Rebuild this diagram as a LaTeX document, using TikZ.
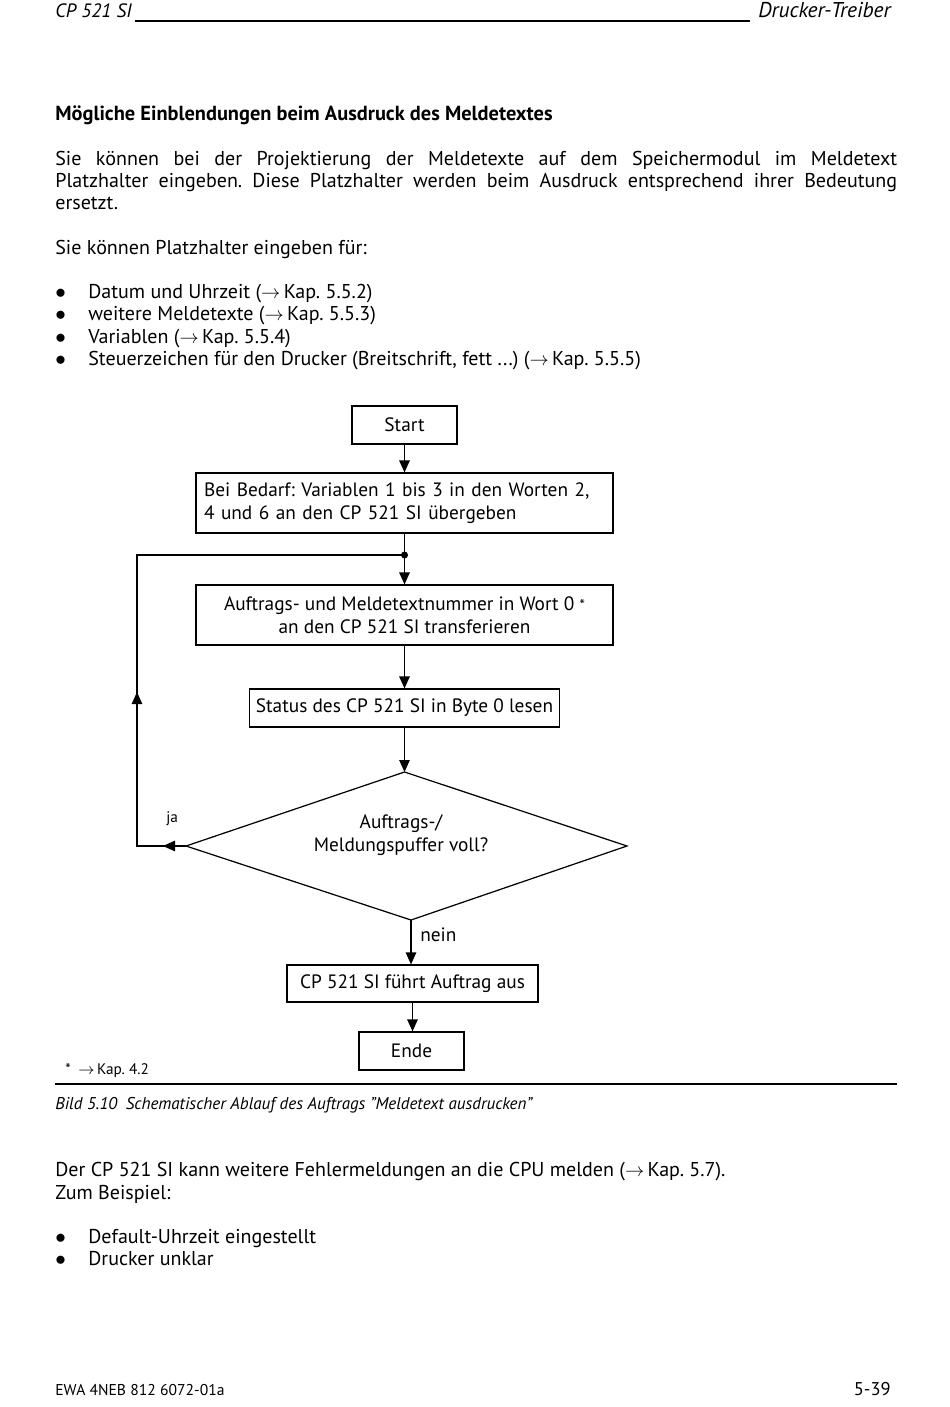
\documentclass[tikz,border=0pt]{standalone}
\usepackage{fontspec}
\setmainfont{PT Sans}
\usetikzlibrary{arrows.meta,decorations.markings}
\newcommand{\bodyfont}{\fontsize{11.4}{13}\selectfont}
\newcommand{\chartfont}{\fontsize{11}{13}\selectfont}
\newcommand{\smallfont}{\fontsize{8.7}{10}\selectfont}
\newcommand{\kap}{$\rightarrow$\,}
\newcommand{\bul}{{\large$\bullet$}}
\frenchspacing
\begin{document}
\begin{tikzpicture}[x=0.02cm, y=-0.02cm, >={Triangle[length=0.24cm, width=0.21cm]},
  txt/.style={anchor=base west, inner sep=0, font=\bodyfont},
  box/.style={draw, line width=0.7pt, inner sep=0, minimum height=0.76cm, font=\chartfont, align=center},
  flow/.style={->, line width=0.7pt}]
  \useasboundingbox (0,0) rectangle (950,1407);

  % Kopfzeile
  \node[txt, font=\fontsize{11}{13}\selectfont\itshape] (kopfl) at (55,17) {CP 521 SI};
  \node[txt, anchor=base east, font=\fontsize{12.2}{14}\selectfont\itshape] (kopfr) at (891,17) {Drucker-Treiber};
  \draw[line width=0.6pt] (135,21) -- (750,21);

  % Text oben
  \node[txt, font=\fontsize{11.6}{13}\selectfont\bfseries] (titel) at (55,120) {Mögliche Einblendungen beim Ausdruck des Meldetextes};
  \node[txt] (p1) at (55,165) {\makebox[16.84cm][s]{Sie können bei der Projektierung der Meldetexte auf dem Speichermodul im Meldetext}};
  \node[txt] (p2) at (55,187) {\makebox[16.84cm][s]{Platzhalter eingeben. Diese Platzhalter werden beim Ausdruck entsprechend ihrer Bedeutung}};
  \node[txt] (p3) at (55,209) {ersetzt.};
  \node[txt] (p4) at (55,254) {Sie können Platzhalter eingeben für:};
  \foreach \yy/\tx in {298/{Datum und Uhrzeit (\kap Kap.~5.5.2)},
      320.5/{weitere Meldetexte (\kap Kap.~5.5.3)},
      343/{Variablen (\kap Kap.~5.5.4)},
      365.5/{Steuerzeichen für den Drucker (Breitschrift, fett ...) (\kap Kap.~5.5.5)}} {
    \node[txt] (pkt\yy) at (55,\yy) {\bul};
    \node[txt] (punkt\yy) at (88,\yy) {\tx};
  }

  % Ablaufplan
  \node[box, minimum width=2.1cm] (start) at (404.5,425) {Start};
  \node[box, minimum height=1.2cm, text width=8.02cm, align=left, inner xsep=0.16cm] (bedarf) at (404.5,503)
    {Bei Bedarf: Variablen 1 bis 3 in den Worten 2,\\ 4 und 6 an den CP 521 SI übergeben};
  \node[box, minimum width=8.34cm, minimum height=1.2cm] (auftrag) at (404.5,615)
    {Auftrags- und Meldetextnummer in Wort 0 {\smallfont *}\\ an den CP 521 SI transferieren};
  \node[box, minimum width=6.2cm] (status) at (404.5,708) {Status des CP 521 SI in Byte 0 lesen};
  % Raute
  \coordinate (rtop) at (404.5,772);
  \coordinate (rlinks) at (186,846);
  \coordinate (rrechts) at (627,846);
  \coordinate (runten) at (411,920);
  \draw[line width=0.7pt] (rtop) -- (rrechts) -- (runten) -- (rlinks) -- cycle;
  \node[inner sep=0, font=\chartfont, align=center] (frage) at (401,835.5) {Auftrags-/\\Meldungspuffer voll?};
  \node[box, minimum width=5.02cm, minimum height=0.74cm] (fuehrt) at (412.5,983.5) {CP 521 SI führt Auftrag aus};
  \node[box, minimum width=2.1cm] (ende) at (411.5,1051) {Ende};

  \coordinate (knoten) at (404.5,555);
  \coordinate (ecku) at (137,846);
  \coordinate (ecko) at (137,555);

  \draw[flow] (start) -- (bedarf);
  \draw[line width=0.7pt] (bedarf) -- (knoten);
  \draw[flow] (knoten) -- (auftrag);
  \fill (knoten) circle (2pt);
  \draw[flow] (auftrag) -- (status);
  \draw[flow] (status) -- (rtop);
  \draw[line width=0.7pt, postaction={decorate}, decoration={markings,
      mark=at position 0.46cm with {\arrow{>}},
      mark=at position 4.06cm with {\arrow{>}}}]
    (rlinks) -- (ecku) -- (ecko) -- (knoten);
  \node[txt, font=\smallfont] (ja) at (166,822) {ja};
  \draw[flow] (runten) -- (runten |- fuehrt.north);
  \node[txt, font=\chartfont] (nein) at (420,941) {nein};
  \draw[flow] (fuehrt.south) -- (fuehrt.south |- ende.north);

  % Fussnote und Bildunterschrift
  \node[txt, font=\smallfont] (fussnote) at (65,1074) {*\enspace\kap Kap.~4.2};
  \draw[line width=0.8pt] (55,1084) -- (897,1084);
  \node[txt, font=\fontsize{9.7}{11}\selectfont\itshape] (bild) at (55,1109) {Bild 5.10\enspace Schematischer Ablauf des Auftrags ”Meldetext ausdrucken”};

  % Text unten
  \node[txt] (p5) at (55,1176) {Der CP 521 SI kann weitere Fehlermeldungen an die CPU melden (\kap Kap.~5.7).};
  \node[txt] (p6) at (55,1199) {Zum Beispiel:};
  \foreach \yy/\tx in {1243/{Default-Uhrzeit eingestellt}, 1265/{Drucker unklar}} {
    \node[txt] (pkt\yy) at (55,\yy) {\bul};
    \node[txt] (punkt\yy) at (88,\yy) {\tx};
  }

  % Fusszeile
  \node[txt, font=\fontsize{8.9}{10}\selectfont] (fuss) at (55,1395) {EWA 4NEB 812 6072-01a};
  \node[txt, anchor=base east, font=\fontsize{10.5}{12}\selectfont] (seite) at (891,1395) {5-39};
\end{tikzpicture}
\end{document}
